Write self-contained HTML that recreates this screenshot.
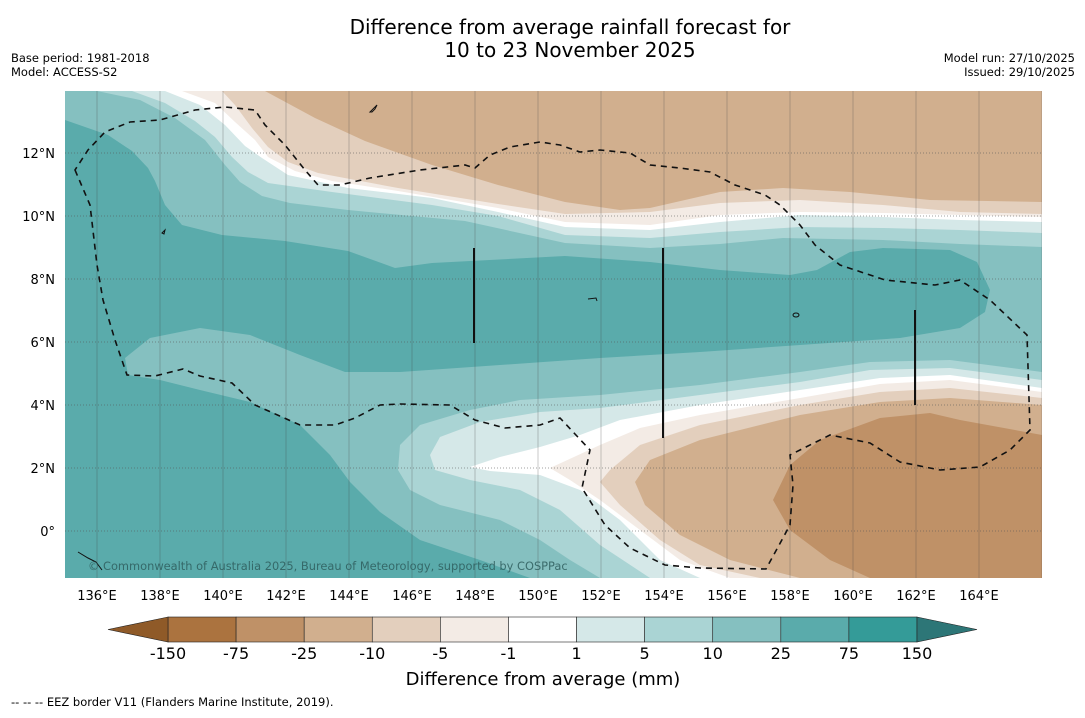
<!DOCTYPE html>
<html><head><meta charset="utf-8"><style>
body{margin:0;background:#fff;width:1085px;height:713px;overflow:hidden;font-family:"Liberation Sans","DejaVu Sans",sans-serif}
svg text{font-family:"DejaVu Sans","Liberation Sans",sans-serif}
</style></head><body>
<svg id="chart" width="1085" height="713" viewBox="0 0 1085 713" xmlns="http://www.w3.org/2000/svg">
<text x="570" y="34" font-size="20" text-anchor="middle">Difference from average rainfall forecast for</text>
<text x="570" y="57" font-size="20" text-anchor="middle">10 to 23 November 2025</text>
<text x="11" y="62" font-size="11.5">Base period: 1981-2018</text>
<text x="11" y="76" font-size="11.5">Model: ACCESS-S2</text>
<text x="1075" y="62" font-size="11.5" text-anchor="end">Model run: 27/10/2025</text>
<text x="1075" y="76" font-size="11.5" text-anchor="end">Issued: 29/10/2025</text>
<defs><clipPath id="mc"><rect x="65" y="91" width="977" height="487"/></clipPath></defs>
<g clip-path="url(#mc)">
<rect x="65" y="91" width="977" height="487" fill="#85c0c0"/>
<path fill="#5aabab" d="M65,120 L108,135 132,151 148,168 155,181 165,205 182,225 222,235 285,241 348,251 395,268 432,263 565,256 650,262 720,270 790,275 817,270 850,252 883,248 950,250 977,262 990,290 985,312 960,328 900,338 800,345 700,352 600,358 500,365 400,372 345,372 300,355 250,335 200,328 150,338 125,358 128,375 160,380 200,390 250,402 300,425 330,455 350,482 380,512 420,540 480,560 530,578 65,578Z"/>
<g>
<path fill="#aad4d4" d="M97,91 L140,100 175,118 205,140 225,165 240,182 262,196 290,203 348,210 412,216 465,221 565,243 650,248 720,244 783,238 883,240 960,244 1042,247 1042,91Z"/>
<path fill="#d5e8e8" d="M132,91 L165,103 195,121 215,137 232,157 248,172 268,183 332,192 432,205 498,216 565,235 650,238 720,232 800,227 883,228 960,230 1042,233 1042,91Z"/>
<path fill="#ffffff" d="M165,91 L200,105 225,125 245,146 262,158 288,175 348,188 432,198 498,212 565,227 650,230 720,222 800,215 883,217 960,220 1042,222 1042,91Z"/>
<path fill="#f3ebe5" d="M182,91 L215,103 235,122 255,140 268,157 295,171 332,181 398,191 498,208 565,222 650,225 720,215 800,212 883,213 960,215 1042,217 1042,91Z"/>
<path fill="#e3cfbd" d="M222,91 L235,105 252,128 268,147 288,162 318,173 398,188 498,204 565,214 650,212 720,203 800,200 883,205 960,212 1042,214 1042,91Z"/>
<path fill="#d1af8e" d="M265,91 L315,118 365,141 432,165 498,185 565,202 620,210 650,208 720,192 783,188 850,192 930,200 1042,202 1042,91Z"/>
</g>
<g>
<path fill="#aad4d4" d="M1042,372 L950,360 870,362 800,372 700,385 600,395 520,400 470,410 420,425 400,445 398,470 410,490 440,505 500,520 540,540 570,560 600,578 1042,578Z"/>
<path fill="#d5e8e8" d="M1042,380 L950,368 870,370 800,382 700,395 600,408 540,412 480,422 440,437 430,455 435,470 470,480 520,490 560,510 600,545 650,578 1042,578Z"/>
<path fill="#ffffff" d="M1042,388 L950,375 880,378 800,390 700,405 620,420 580,435 540,447 500,457 470,467 490,471 540,475 580,490 620,520 660,560 700,578 1042,578Z"/>
<path fill="#f3ebe5" d="M1042,392 L950,380 880,384 800,398 700,415 640,428 600,445 550,468 570,480 600,500 640,530 680,560 730,578 1042,578Z"/>
<path fill="#e3cfbd" d="M1042,398 L950,388 880,392 800,405 700,425 640,445 610,470 600,482 620,505 660,540 700,565 760,578 1042,578Z"/>
<path fill="#d1af8e" d="M1042,405 L950,398 880,402 800,415 700,440 650,460 635,482 645,505 680,535 730,560 800,578 1042,578Z"/>
<path fill="#bf9167" d="M1042,435 L960,420 930,413 880,418 820,440 790,465 773,500 790,530 830,560 870,578 1042,578Z"/>
</g>
<g id="grid"></g>
<path fill="none" stroke="#111" stroke-width="1.6" stroke-dasharray="6,5" d="M75,170 L90,205 97,265 103,300 115,340 127,375 155,376 183,369 200,376 232,383 255,405 300,425 335,425 355,418 380,405 400,404 450,405 475,420 505,428 540,425 560,418 590,450 582,488 605,525 630,548 665,565 700,568 766,569 790,525 793,485 790,455 830,435 870,443 900,462 940,470 980,467 1010,450 1030,430 1027,335 990,300 960,280 935,285 885,280 840,265 815,245 800,225 780,205 765,195 735,185 710,172 680,168 650,165 630,153 600,150 580,152 560,145 540,142 510,147 490,155 475,168 465,165 420,170 370,178 340,185 318,185 305,170 285,145 265,125 255,110 225,107 195,110 160,120 130,122 105,132 88,150Z"/>
<g stroke="#111" stroke-width="2">
<line x1="474" y1="248" x2="474" y2="343"/><line x1="663" y1="248" x2="663" y2="438"/><line x1="915" y1="310" x2="915" y2="405"/>
</g>
<g fill="none" stroke="#111" stroke-width="1">
<path d="M370,112 l4,-4 3,-3 -2,4 -3,3z"/><path d="M162,233 l3,-3 -1,4z"/><ellipse cx="796" cy="315" rx="3" ry="2"/><path d="M588,299 l8,-1 1,3"/><path d="M78,552 l10,6 8,4 6,8"/>
</g>
<text x="88" y="570" font-size="11.4" fill="#2f5e5e" opacity="0.85">© Commonwealth of Australia 2025, Bureau of Meteorology, supported by COSPPac</text>
</g>
<g id="axes" font-size="13"></g>
<g id="cbar"></g>
<text x="543" y="685" font-size="18" text-anchor="middle">Difference from average (mm)</text>
<text x="11" y="706" font-size="11.5">--  --  -- EEZ border V11 (Flanders Marine Institute, 2019).</text>
</svg>
<script>
const lonTicks=[136,138,140,142,144,146,148,150,152,154,156,158,160,162,164];
const latTicks=[0,2,4,6,8,10,12];
const levelLabels=["-150","-75","-25","-10","-5","-1","1","5","10","25","75","150"];
const levelColors=["#ab733f","#bf9167","#d1af8e","#e3cfbd","#f3ebe5","#ffffff","#d5e8e8","#aad4d4","#85c0c0","#5aabab","#349b98"];
const NS="http://www.w3.org/2000/svg";
const xLon=l=>97+(l-136)*31.5;
const yLat=l=>531-l*31.5;
function mk(t,a,p){const e=document.createElementNS(NS,t);for(const k in a)e.setAttribute(k,a[k]);p.appendChild(e);return e;}
const grid=document.getElementById('grid'),axes=document.getElementById('axes'),cb=document.getElementById('cbar');
lonTicks.concat([166]).forEach(l=>{const ln=mk('line',{x1:xLon(l),x2:xLon(l),y1:91,y2:578,stroke:'#444','stroke-width':1,opacity:0.28},grid);

});
latTicks.forEach(l=>{const ln=mk('line',{x1:65,x2:1042,y1:yLat(l),y2:yLat(l),stroke:'#555','stroke-width':1,'stroke-dasharray':'1,2',opacity:0.55},grid);

});
lonTicks.forEach(l=>{const t=mk('text',{x:xLon(l),y:600,'text-anchor':'middle'},axes);t.textContent=l+'°E';

});
latTicks.forEach(l=>{const t=mk('text',{x:55,y:yLat(l)+5,'text-anchor':'end'},axes);t.textContent=l===0?'0°':l+'°N';

});
const cx0=168,cx1=917,cy=617,ch=25,bw=(cx1-cx0)/levelColors.length;
levelColors.forEach((c,i)=>{const r=mk('rect',{x:cx0+i*bw,y:cy,width:bw,height:ch,fill:c,stroke:'#222','stroke-width':0.6},cb);

});
const la=mk('polygon',{points:`${cx0},${cy} 108,${cy+ch/2} ${cx0},${cy+ch}`,fill:'#8f5a28',stroke:'#222','stroke-width':0.6},cb);


const ra=mk('polygon',{points:`${cx1},${cy} 977,${cy+ch/2} ${cx1},${cy+ch}`,fill:'#2d7677',stroke:'#222','stroke-width':0.6},cb);


levelLabels.forEach((s,i)=>{const t=mk('text',{x:cx0+i*bw,y:659,'text-anchor':'middle','font-size':16},cb);t.textContent=s;

});
</script>
</body></html>
